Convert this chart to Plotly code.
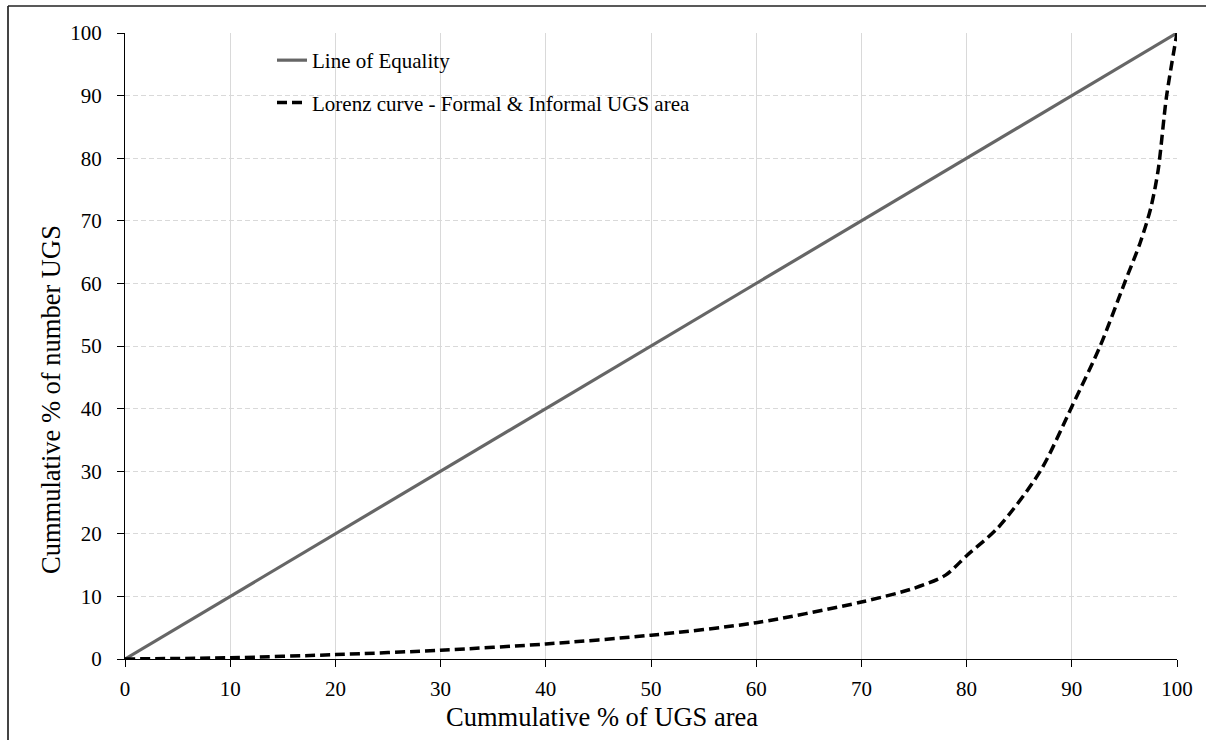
import plotly.graph_objects as go

# Data
equality_x = [0, 100]
equality_y = [0, 100]

lorenz_x = [0, 10, 20, 30, 40, 50, 60, 70, 75, 78, 80, 83, 87, 90, 92.7, 95, 96.5, 97.5, 98.2, 99, 100]
lorenz_y = [0, 0.2, 0.7, 1.4, 2.4, 3.8, 5.8, 9.1, 11.3, 13.4, 16.5, 21, 30, 40.3, 50, 60, 66.5, 72, 78, 89.8, 100]

tick_vals = [0, 10, 20, 30, 40, 50, 60, 70, 80, 90, 100]

x_title = "Cummulative % of UGS area"
y_title = "Cummulative % of number UGS"

FONT = "Liberation Serif, Times New Roman, serif"

fig = go.Figure()
fig.add_trace(go.Scatter(
    x=equality_x, y=equality_y, mode="lines", name="Line of Equality",
    line=dict(color="#666666", width=3.2), legendgroup="a", cliponaxis=False,
))
fig.add_trace(go.Scatter(
    x=lorenz_x, y=lorenz_y, mode="lines", name="Lorenz curve - Formal & Informal UGS area",
    line=dict(color="#000000", width=3.5, dash="10px,5px", shape="spline", smoothing=0.8),
    legendgroup="b", cliponaxis=False,
))

W, H = 1206, 740
L, R, T, B = 125, 29, 33, 81
pw, ph = W - L - R, H - T - B

def px_x(p):
    return (p - L) / pw

def px_y(p):
    return (H - B - p) / ph

# outer frame (left & top edges of the original figure border)
fig.add_shape(type="line", xref="paper", yref="paper",
              x0=px_x(8), x1=px_x(8), y0=px_y(740), y1=px_y(6),
              line=dict(color="#444444", width=2), layer="above")
fig.add_shape(type="line", xref="paper", yref="paper",
              x0=px_x(8), x1=px_x(1206), y0=px_y(6), y1=px_y(6),
              line=dict(color="#222222", width=1.5), layer="above")

# axis titles (positioned as in the original)
fig.add_annotation(text=x_title, xref="paper", yref="paper", x=px_x(602), y=px_y(717),
                   xanchor="center", yanchor="middle", showarrow=False,
                   font=dict(size=26.5, family=FONT, color="black"))
fig.add_annotation(text=y_title, xref="paper", yref="paper", x=px_x(51), y=px_y(400),
                   xanchor="center", yanchor="middle", showarrow=False, textangle=-90,
                   font=dict(size=26.5, family=FONT, color="black"))

fig.update_layout(
    width=W, height=H,
    margin=dict(l=L, r=R, t=T, b=B, pad=0),
    paper_bgcolor="white", plot_bgcolor="white",
    font=dict(family=FONT, color="black", size=21),
    showlegend=True,
    legend=dict(
        x=px_x(272), y=px_y(40), xanchor="left", yanchor="top",
        bgcolor="rgba(0,0,0,0)", font=dict(size=21, family=FONT, color="black"),
        traceorder="grouped", tracegroupgap=12,
    ),
    xaxis=dict(
        range=[0, 100], tickvals=tick_vals, showline=True, linecolor="black", linewidth=1,
        ticks="outside", ticklen=7, tickcolor="black", showgrid=True, gridcolor="#d9d9d9",
        gridwidth=1, zeroline=False, tickfont=dict(size=21, family=FONT, color="black"),
        ticklabelstandoff=4,
    ),
    yaxis=dict(
        range=[0, 100], tickvals=tick_vals, showline=True, linecolor="black", linewidth=1,
        ticks="outside", ticklen=7, tickcolor="black", showgrid=True, gridcolor="#d9d9d9",
        gridwidth=1, griddash="5px,3px", zeroline=False,
        tickfont=dict(size=21, family=FONT, color="black"), ticklabelstandoff=11,
    ),
)

fig.write_html("out.html")
